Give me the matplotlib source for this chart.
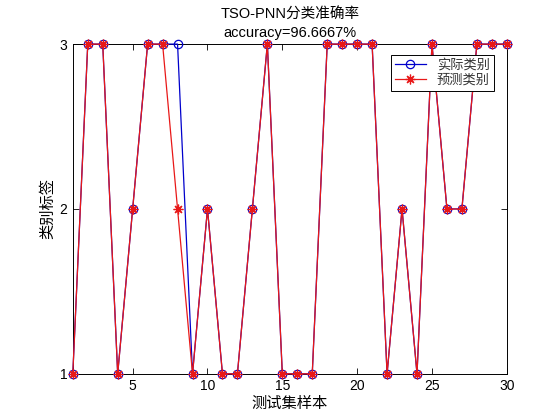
import numpy as np
import matplotlib.pyplot as plt

plt.rcParams['font.family'] = ['Liberation Sans', 'Noto Sans CJK SC', 'DejaVu Sans']

# test sample index and class labels
samples = np.arange(1, 31)
actual = [1, 3, 3, 1, 2, 3, 3, 3, 1, 2, 1, 1, 2, 3, 1, 1, 1, 3, 3, 3,
          3, 1, 2, 1, 3, 2, 2, 3, 3, 3]
predicted = [1, 3, 3, 1, 2, 3, 3, 2, 1, 2, 1, 1, 2, 3, 1, 1, 1, 3, 3, 3,
             3, 1, 2, 1, 3, 2, 2, 3, 3, 3]
accuracy = 96.6667

fig = plt.figure(figsize=(5.6, 4.2), dpi=100)
ax = fig.add_axes([0.13, 0.11, 0.775, 0.785])

ax.plot(samples, actual, color='#0000cc', lw=0.9, marker='o',
        mfc='none', mec='#0000cc', ms=6, mew=0.9, label='实际类别',
        clip_on=False, zorder=3)
ax.plot(samples, predicted, color='#e81818', lw=0.9, marker=(8, 2, 0),
        ms=7, mew=0.9, label='预测类别', clip_on=False, zorder=4)

ax.set_xlim(1, 30)
ax.set_ylim(1, 3)
ax.set_xticks([5, 10, 15, 20, 25, 30])
ax.set_yticks([1, 2, 3])
ax.tick_params(direction='in', length=4, width=0.6, labelsize=10,
               top=True, right=True, pad=4)
for s in ax.spines.values():
    s.set_linewidth(0.7)

ax.set_xlabel('测试集样本', fontsize=11, family=['Noto Sans CJK SC'], labelpad=1)
ax.set_ylabel('类别标签', fontsize=11, family=['Noto Sans CJK SC'], labelpad=2)
ax.set_title('TSO-PNN分类准确率\naccuracy=%.4f%%' % accuracy, fontsize=10.5,
             linespacing=1.35, pad=5)

leg = ax.legend(loc='upper right', bbox_to_anchor=(0.97, 0.967), fontsize=9.5,
                fancybox=False, edgecolor='black', framealpha=1,
                borderpad=0.3, handlelength=2.4, labelspacing=0.2,
                borderaxespad=0)
leg.get_frame().set_linewidth(0.7)
leg.set_zorder(5)
for t in leg.get_texts():
    t.set_color('#333333')

fig.savefig('out.png', dpi=100)
